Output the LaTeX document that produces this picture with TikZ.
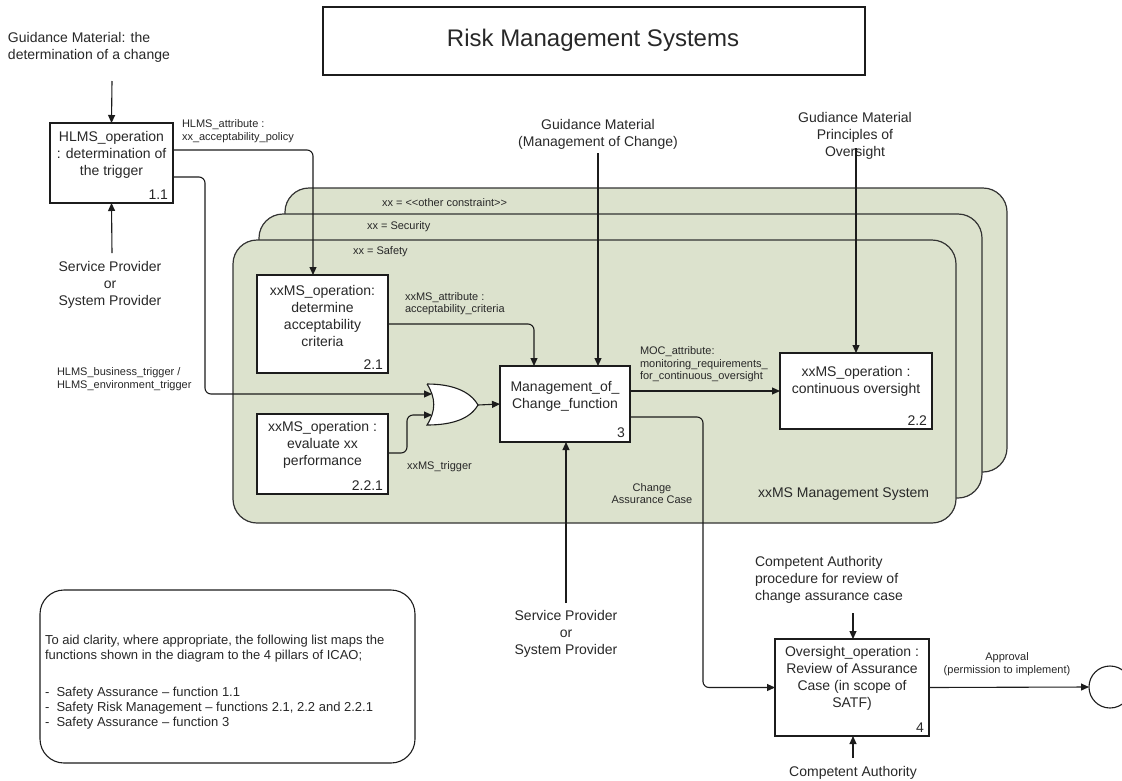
\documentclass[tikz,border=0pt]{standalone}
\usepackage{fontspec}
\setmainfont{Liberation Sans}
\usetikzlibrary{arrows.meta,calc}
\definecolor{sage}{RGB}{220,226,205}
\definecolor{ink}{RGB}{28,28,28}
\definecolor{txt}{RGB}{40,40,40}
\begin{document}
\begin{tikzpicture}[x=1pt,y=-1pt,
  every node/.style={inner sep=0pt, outer sep=0pt, text=txt},
  box/.style={draw=ink, line width=1.2pt, fill=white},
  boxtext/.style={align=center, font=\fontsize{14}{17}\selectfont},
  num/.style={anchor=south east, xshift=-5pt, yshift=4pt, font=\fontsize{14}{17}\selectfont},
  lbl/.style={align=left, font=\fontsize{11}{12.5}\selectfont},
  clbl/.style={align=center, font=\fontsize{11}{12.5}\selectfont},
  ext/.style={align=center, font=\fontsize{14}{17}\selectfont},
  arr/.style={draw=ink, line width=1.1pt, -{Triangle[length=8pt,width=7pt]}, rounded corners=6pt},
  layer/.style={draw=ink!90, line width=1.2pt, fill=sage, rounded corners=24pt},
]
\useasboundingbox (0,0) rectangle (1122,780);
\fill[white] (0,0) rectangle (1122,780);

% title
\node[draw=ink, line width=1.2pt, minimum width=542pt, minimum height=68pt] (titlebox) at (594,41) {};
\node[font=\fontsize{24}{28}\selectfont] (title) at (593,40) {Risk Management Systems};

% stacked management-system layers
\draw[layer] (285,188) rectangle (1007,472);
\draw[layer] (259,214) rectangle (982,498);
\draw[layer] (233,240) rectangle (956,523);
\node[lbl, anchor=west] (lother) at (382,203) {xx = <{}<other constraint>{}>};
\node[lbl, anchor=west] (lsec) at (367,227) {xx = Security};
\node[lbl, anchor=west] (lsaf) at (353,252) {xx = Safety};
\node[ext, anchor=west] (lms) at (758,494) {xxMS Management System};

% function boxes
\node[box, minimum width=123pt, minimum height=80pt] (hlms) at (111.5,163) {};
\node[boxtext] (hlmst) at (111.5,154.5) {HLMS\_operation\\: determination of\\the trigger};
\node[num] (hlmsn) at (hlms.south east) {1.1};

\node[box, minimum width=131pt, minimum height=98pt] (b21) at (322.5,324) {};
\node[boxtext] (b21t) at (322.5,315.5) {xxMS\_operation:\\determine\\acceptability\\criteria};
\node[num] (b21n) at (b21.south east) {2.1};

\node[box, minimum width=131pt, minimum height=80pt] (b221) at (322.5,454) {};
\node[boxtext] (b221t) at (322.5,445) {xxMS\_operation :\\evaluate xx\\performance};
\node[num] (b221n) at (b221.south east) {2.2.1};

\node[box, minimum width=130pt, minimum height=76pt] (b3) at (565,404) {};
\node[boxtext] (b3t) at (565,396) {Management\_of\_\\Change\_function};
\node[num] (b3n) at (b3.south east) {3};

\node[box, minimum width=152pt, minimum height=76pt] (b22) at (856,391) {};
\node[boxtext] (b22t) at (856,381.5) {xxMS\_operation :\\continuous oversight};
\node[num] (b22n) at (b22.south east) {2.2};

\node[box, minimum width=154pt, minimum height=97pt] (b4) at (852,687.5) {};
\node[boxtext] (b4t) at (852,678) {Oversight\_operation :\\Review of Assurance\\Case (in scope of\\SATF)};
\node[num] (b4n) at (b4.south east) {4};

% OR gate
\draw[ink, line width=1.1pt, fill=white]
  (427,384) .. controls (452,384) and (470,391) .. (478,405)
  .. controls (470,419) and (452,425) .. (427,425)
  .. controls (436,411) and (436,398) .. (427,384);
\coordinate (orin1) at (432,394);
\coordinate (orin2) at (432,415);
\coordinate (orout) at (478,405);

% external inputs and outputs
\node[ext, anchor=west, align=left] (gm1) at (8,47) {Guidance Material: the\\determination of a change};
\coordinate (gm1end) at (112,81);
\node[ext] (sp1) at (110,285) {Service Provider\\or\\System Provider};
\coordinate (sp1end) at (112,253);
\node[ext] (gm2) at (598,134) {Guidance Material\\(Management of Change)};
\coordinate (gm2end) at (598,153);
\node[ext] (gm3) at (855,136) {Gudiance Material\\Principles of\\Oversight};
\coordinate (gm3end) at (856,148);
\node[ext] (sp3) at (566,634) {Service Provider\\or\\System Provider};
\coordinate (sp3end) at (566,603);
\node[ext, anchor=west, align=left] (ca1) at (755,580) {Competent Authority\\procedure for review of\\change assurance case};
\coordinate (ca1end) at (853,613);
\node[ext] (ca2) at (853,773) {Competent Authority};
\coordinate (ca2end) at (853,758);
\node[draw=ink, line width=1.1pt, circle, minimum size=42pt, fill=white] (endc) at (1110,687) {};

% connector labels
\node[lbl, anchor=west] (l1) at (182,131) {HLMS\_attribute :\\xx\_acceptability\_policy};
\node[lbl, anchor=west] (l2) at (57,379) {HLMS\_business\_trigger /\\HLMS\_environment\_trigger};
\node[lbl, anchor=west] (l3) at (405,303.5) {xxMS\_attribute :\\acceptability\_criteria};
\node[lbl, anchor=west] (l4) at (407,467) {xxMS\_trigger};
\node[lbl, anchor=west] (l5) at (640,364.5) {MOC\_attribute:\\monitoring\_requirements\_\\for\_continuous\_oversight};
\node[clbl] (l6) at (652,493.5) {Change\\Assurance Case};
\node[clbl] (l7) at (1007,664) {Approval\\(permission to implement)};

% route corners
\coordinate (a1) at (313,150);
\coordinate (a2) at (205,177);
\coordinate (a3) at (205,394);
\coordinate (a4) at (407,453);
\coordinate (a5) at (407,415);
\coordinate (a6) at (534,324);
\coordinate (a7) at (703,417);
\coordinate (a8) at (703,687.5);

% connectors
\draw[arr] (gm1end) -- (hlms.north);
\draw[arr] (sp1end) -- (hlms.south);
\draw[arr] (hlms.east |- a1) -- (a1) -- (a1 |- b21.north);
\draw[arr] (hlms.east |- a2) -- (a2) -- (a3) -- (orin1);
\draw[arr] (b221.east |- a4) -- (a4) -- (a5) -- (orin2);
\draw[arr] (b21.east |- a6) -- (a6) -- (a6 |- b3.north);
\draw[arr] (gm2end) -- (gm2end |- b3.north);
\draw[arr] (gm3end) -- (gm3end |- b22.north);
\draw[arr] (orout) -- (b3.west);
\draw[arr] (b3.east |- b22.west) -- (b22.west);
\draw[arr] (b3.east |- a7) -- (a7) -- (a8) -- (b4.west);
\draw[arr] (sp3end) -- (sp3end |- b3.south);
\draw[arr] (ca1end) -- (ca1end |- b4.north);
\draw[arr] (ca2end) -- (ca2end |- b4.south);
\draw[arr] (b4.east) -- (endc.west);

% legend
\node[draw=ink, line width=1.1pt, rounded corners=24pt, minimum width=375pt, minimum height=173pt, anchor=north west] (legend) at (40,590) {};
\node[anchor=north west, align=left, font=\fontsize{13}{15}\selectfont] (legendt) at (45,635)
  {To aid clarity, where appropriate, the following list maps the\\
   functions shown in the diagram to the 4 pillars of ICAO;\\[22pt]
   -\ \ Safety Assurance -- function 1.1\\
   -\ \ Safety Risk Management -- functions 2.1, 2.2 and 2.2.1\\
   -\ \ Safety Assurance -- function 3};
\end{tikzpicture}
\end{document}
